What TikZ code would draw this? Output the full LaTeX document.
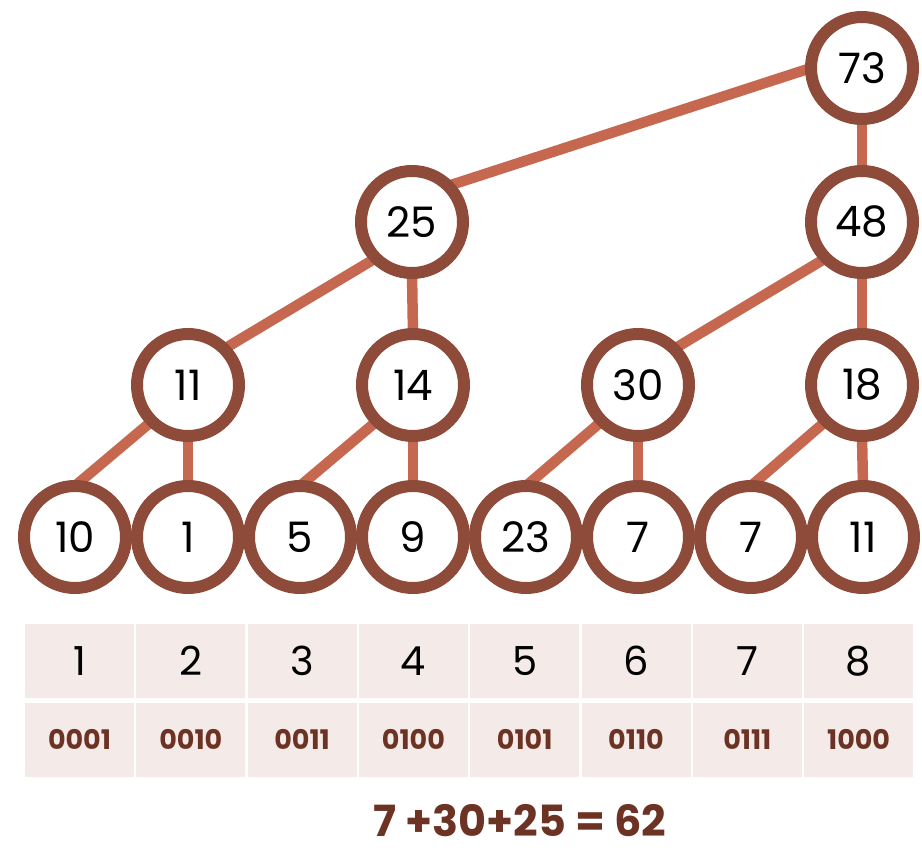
\documentclass[tikz,border=0pt]{standalone}
\usepackage{fontspec}
\setmainfont{Poppins}
\usepackage{tikz}
\usetikzlibrary{backgrounds}
\definecolor{ringbrown}{HTML}{8E4B3A}
\definecolor{linkred}{HTML}{C66850}
\definecolor{cellpink}{HTML}{F4EAE8}
\definecolor{codebrown}{HTML}{6C3324}
\tikzset{vert/.style={circle, draw=ringbrown, line width=12pt, fill=white,
  minimum size=102pt, inner sep=0pt, outer sep=0pt,
  font=\fontsize{42}{46}\selectfont}}
\tikzset{link/.style={draw=linkred, line width=10.5pt}}
\tikzset{cell/.style={rectangle, fill=cellpink, minimum width=109pt,
  minimum height=74pt, inner sep=0pt}}
\tikzset{idx/.style={cell, font=\fontsize{40}{44}\selectfont}}
\tikzset{bin/.style={cell, text=codebrown, font=\bfseries\fontsize{27}{30}\selectfont}}

\begin{document}
\begin{tikzpicture}[x=1pt, y=-1pt]
\useasboundingbox (0,0) rectangle (922,848);

% the tree
\node[vert] (n73) at (862, 68) {73};
\node[vert] (n25) at (412, 222) {25};
\node[vert] (n48) at (862, 222) {48};
\node[vert] (n11) at (188, 385) {11};
\node[vert] (n14) at (413, 385) {14};
\node[vert] (n30) at (638, 385) {30};
\node[vert] (n18) at (862, 385) {18};

\node[vert] (l1) at (75, 537) {10};
\node[vert] (l2) at (188, 537) {1};
\node[vert] (l3) at (300, 537) {5};
\node[vert] (l4) at (413, 537) {9};
\node[vert] (l5) at (526, 537) {23};
\node[vert] (l6) at (638, 537) {7};
\node[vert] (l7) at (751, 537) {7};
\node[vert] (l8) at (863, 537) {11};

\begin{scope}[on background layer]
\draw[link] (n73.west) -- (n25.north east);
\draw[link] (n73.south) -- (n48.north);
\draw[link] (n25.south west) -- (n11.north east);
\draw[link] (n25.south) -- (n14.north);
\draw[link] (n48.south west) -- (n30.north east);
\draw[link] (n48.south) -- (n18.north);
\draw[link] (n11.south west) -- (l1.north);
\draw[link] (n11.south) -- (l2.north);
\draw[link] (n14.south west) -- (l3.north);
\draw[link] (n14.south) -- (l4.north);
\draw[link] (n30.south west) -- (l5.north);
\draw[link] (n30.south) -- (l6.north);
\draw[link] (n18.south west) -- (l7.north);
\draw[link] (n18.south) -- (l8.north);
\end{scope}

% index table
\node[idx] (idx1) at (79.5, 661) {1};
\node[idx] (idx2) at (190.8, 661) {2};
\node[idx] (idx3) at (302.1, 661) {3};
\node[idx] (idx4) at (413.4, 661) {4};
\node[idx] (idx5) at (524.7, 661) {5};
\node[idx] (idx6) at (636, 661) {6};
\node[idx] (idx7) at (747.3, 661) {7};
\node[idx] (idx8) at (858.6, 661) {8};

\node[bin] (bin1) at (79.5, 739.5) {0001};
\node[bin] (bin2) at (190.8, 739.5) {0010};
\node[bin] (bin3) at (302.1, 739.5) {0011};
\node[bin] (bin4) at (413.4, 739.5) {0100};
\node[bin] (bin5) at (524.7, 739.5) {0101};
\node[bin] (bin6) at (636, 739.5) {0110};
\node[bin] (bin7) at (747.3, 739.5) {0111};
\node[bin] (bin8) at (858.6, 739.5) {1000};

\node[text=codebrown, inner sep=0pt, font=\bfseries\fontsize{43}{47}\selectfont] (total) at (520, 821) {7 +30+25 = 62};
\end{tikzpicture}
\end{document}
